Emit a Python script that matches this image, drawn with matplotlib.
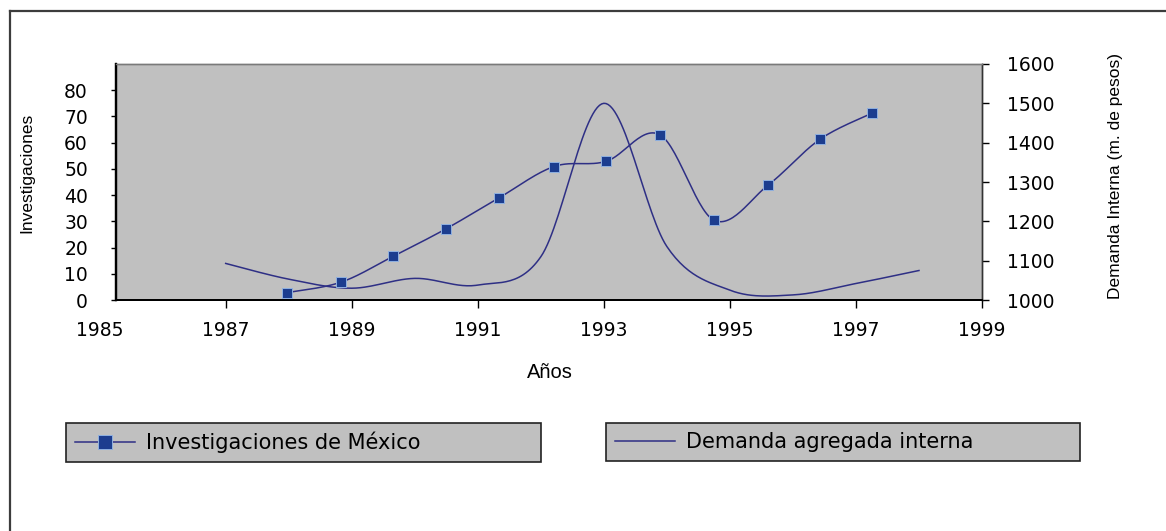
import numpy as np
import matplotlib
matplotlib.use("Agg")
import matplotlib.pyplot as plt
from matplotlib.lines import Line2D

# Investigaciones de México (left axis)
inv_x = [1987.97, 1988.83, 1989.66, 1990.50, 1991.34, 1992.21,
         1993.04, 1993.89, 1994.75, 1995.61, 1996.43, 1997.26]
inv_y = [2.8, 6.8, 16.7, 27.2, 39.0, 50.9, 52.9, 63.0, 30.4, 43.9, 61.3, 71.3]

# Demanda agregada interna, millones de pesos (right axis)
dem_x = [1987, 1988, 1989, 1990, 1991, 1992, 1993, 1994, 1995, 1996, 1997, 1998]
dem_y = [1093, 1053, 1030, 1055, 1038, 1110, 1500, 1136, 1025, 1013, 1042, 1075]

year_ticks = [1985, 1987, 1989, 1991, 1993, 1995, 1997, 1999]
left_ticks = [0, 10, 20, 30, 40, 50, 60, 70, 80]
right_ticks = [1000, 1100, 1200, 1300, 1400, 1500, 1600]

NAVY = "#2e2f85"
MARK = "#1c3d8f"
GREY = "#c0c0c0"
TICKFONT = "DejaVu Sans"
TITLEFONT = "Liberation Sans"


def smooth(x, y, n=30):
    # Excel style smoothed line: cubic Bezier through the points
    pts = np.column_stack([x, y]).astype(float)
    p = np.vstack([pts[0], pts, pts[-1]])
    t = np.linspace(0, 1, n)[:, None]
    out = []
    for i in range(1, len(p) - 2):
        p0, p1, p2, p3 = p[i - 1], p[i], p[i + 1], p[i + 2]
        c1 = p1 + (p2 - p0) / 6
        c2 = p2 - (p3 - p1) / 6
        seg = (1 - t) ** 3 * p1 + 3 * (1 - t) ** 2 * t * c1 + 3 * (1 - t) * t ** 2 * c2 + t ** 3 * p2
        out.append(seg if i == 1 else seg[1:])
    out = np.vstack(out)
    return out[:, 0], out[:, 1]


fig = plt.figure(figsize=(11.66, 5.31), dpi=100)
fig.patch.set_facecolor("white")

ax = fig.add_axes([0.0995, 0.435, 0.7427, 0.4445])
ax2 = ax.twinx()

# demand curve on the right scale
dx, dy = smooth(dem_x, dem_y)
ax2.plot(dx, dy, color=NAVY, lw=1.1, zorder=3)

# investigations curve with square markers on the left scale
ix, iy = smooth(inv_x, inv_y)
ax.plot(ix, iy, color=NAVY, lw=1.1, zorder=3)
ax.plot(inv_x, inv_y, ls="none", marker="s", ms=6.5, mfc=MARK,
        mec="#8fb0e0", mew=0.7, zorder=4)

# left axes drawn on top, grey plot area comes from the twin
ax.set_zorder(ax2.get_zorder() + 1)
ax.patch.set_visible(False)
ax2.patch.set_visible(True)
ax2.patch.set_facecolor(GREY)

ax.set_xlim(1985.26, 1999)
ax.set_ylim(0, 90)
ax2.set_ylim(1000, 1600)

ax.set_xticks(year_ticks[1:])
ax.set_xticklabels([str(y) for y in year_ticks[1:]])
ax.text(year_ticks[0], -0.089, str(year_ticks[0]), transform=ax.get_xaxis_transform(),
        ha="center", va="top", fontsize=13.5, family=TICKFONT, clip_on=False)
ax.set_yticks(left_ticks)
ax.set_yticklabels([str(v) for v in left_ticks])
ax2.set_yticks(right_ticks)
ax2.set_yticklabels([str(v) for v in right_ticks])

ax.tick_params(axis="x", direction="out", length=5.8, width=1, pad=9.4,
               labelsize=13.5, colors="black")
ax.tick_params(axis="y", direction="out", length=3.6, width=1, pad=16.6,
               labelsize=13.5, colors="black")
ax2.tick_params(axis="y", direction="out", length=5, width=1, pad=13,
                labelsize=13.5, colors="black")
for lab in ax.get_xticklabels() + ax.get_yticklabels() + ax2.get_yticklabels():
    lab.set_family(TICKFONT)

for a in (ax, ax2):
    a.spines["top"].set_color("#7a7a7a")
    a.spines["top"].set_linewidth(1)
    a.spines["bottom"].set_color("black")
    a.spines["bottom"].set_linewidth(1.4)
    a.spines["left"].set_color("black")
    a.spines["left"].set_linewidth(1.6)
    a.spines["right"].set_color("#333333")
    a.spines["right"].set_linewidth(1)

ax.set_xlabel("Años", fontsize=14.5, family=TITLEFONT)
ax.xaxis.set_label_coords(0.501, -0.265)
ax.set_ylabel("Investigaciones", fontsize=12.5, family=TITLEFONT)
ax.yaxis.set_label_coords(-0.094, 0.538)
ax2.set_ylabel("Demanda Interna (m. de pesos)", fontsize=12.5, family=TITLEFONT,
               rotation=90)
ax2.yaxis.set_label_coords(1.145, 0.525)

# two separate legend boxes under the chart
h1 = Line2D([], [], color=NAVY, lw=1.1, marker="s", ms=10, mfc=MARK, mec="#8fb0e0", mew=0.7)
h2 = Line2D([], [], color=NAVY, lw=1.1)
for handle, label, box in [(h1, "Investigaciones de México", (0.0566, 0.126, 0.4074, 0.077)),
                           (h2, "Demanda agregada interna", (0.5197, 0.126, 0.4065, 0.077))]:
    leg = fig.legend([handle], [label], loc="upper left", bbox_to_anchor=box, mode="expand",
                     prop={"family": TICKFONT, "size": 15}, fancybox=False, framealpha=1,
                     borderpad=0.42, handlelength=2.9, handletextpad=0.5, borderaxespad=0)
    leg.get_frame().set_facecolor(GREY)
    leg.get_frame().set_edgecolor("#222222")
    leg.get_frame().set_linewidth(1.2)

# outer chart frame (top and left edges)
fig.add_artist(Line2D([10 / 1166, 1.0], [1 - 11 / 531, 1 - 11 / 531],
                      transform=fig.transFigure, color="#3c3c3c", lw=1.6))
fig.add_artist(Line2D([10 / 1166, 10 / 1166], [0.0, 1 - 11 / 531],
                      transform=fig.transFigure, color="#3c3c3c", lw=1.6))

fig.savefig("out.png", dpi=100)
